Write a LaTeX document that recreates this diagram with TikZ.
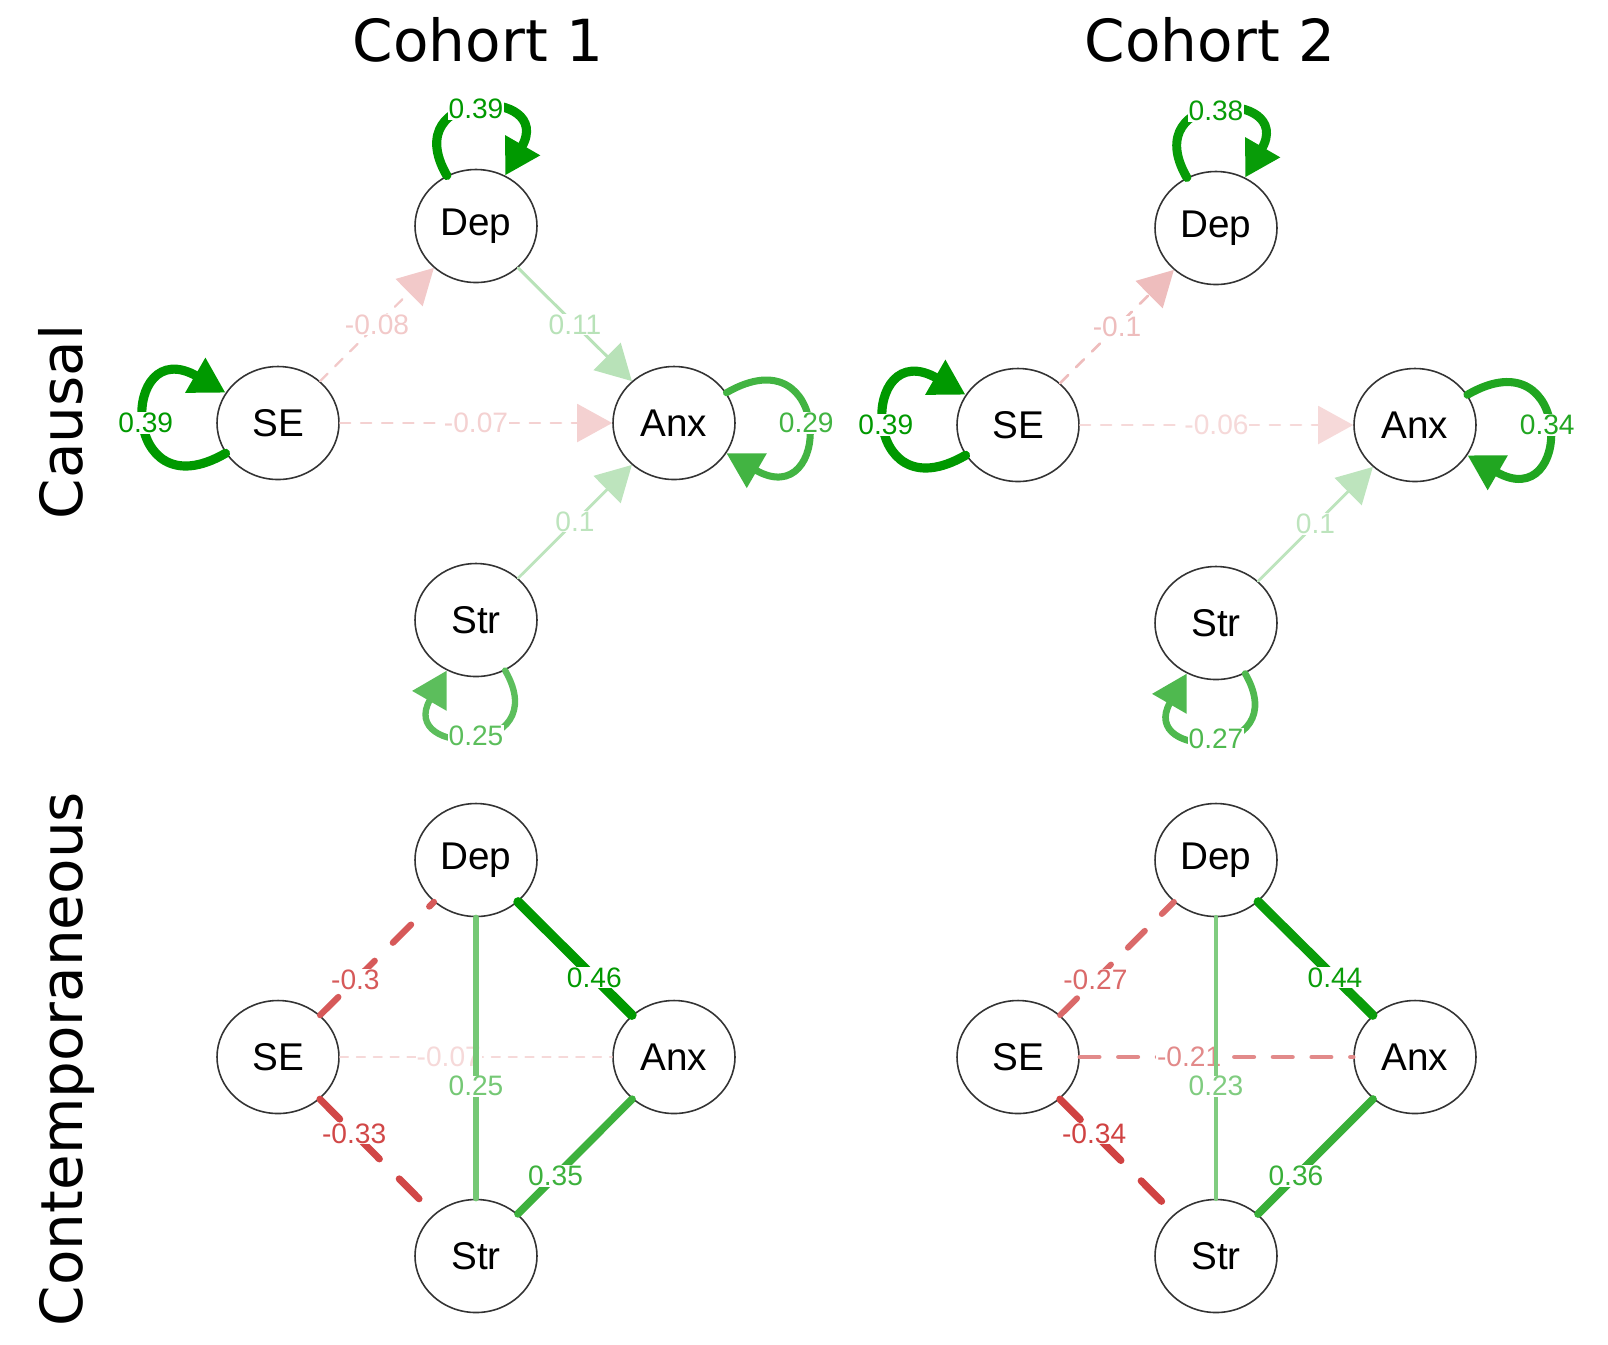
\documentclass[tikz,border=0pt]{standalone}
\usepackage{fontspec}
\setmainfont{Liberation Sans}
\newfontfamily\headfont{DejaVu Sans}
\usepackage{tikz}
\usetikzlibrary{arrows.meta,shapes.geometric}
\definecolor{posgreen}{rgb}{0,0.6,0}
\definecolor{negred}{rgb}{0.75,0,0}
\tikzset{state/.style={ellipse, draw=black!80, line width=0.45pt, fill=white,
            minimum width=1.22cm, minimum height=1.13cm, inner sep=0pt,
            font=\fontsize{11}{13}\selectfont},
         elab/.style={fill=white, inner sep=0.2pt, font=\fontsize{8}{9}\selectfont},
         lagged/.style={-{Triangle[length=3.5mm,width=3.8mm]}},
         negline/.style={dash pattern=on #1 off #1},
         header/.style={font=\headfont\fontsize{16.5}{20}\selectfont, anchor=base}
}
\begin{document}
\begin{tikzpicture}[line cap=round]
\useasboundingbox (0,0) rectangle (16.08,-13.44);
% titles
\node[header] (h1) at (4.78,-0.615) {Cohort 1};
\node[header] (h2) at (12.10,-0.615) {Cohort 2};
\node[header, rotate=90] (r1) at (0.82,-4.22) {Causal};
\node[header, rotate=90] (r2) at (0.82,-10.59) {Contemporaneous};
% causal, cohort 1
\node[state] (dep1) at (4.76,-2.26) {Dep};
\node[state] (se1) at (2.78,-4.23) {SE};
\node[state] (anx1) at (6.74,-4.23) {Anx};
\node[state] (str1) at (4.76,-6.20) {Str};
\draw[negred!18, line width=0.6pt, negline=3pt, lagged] (se1) -- node[elab] {-0.07} (anx1);
\draw[negred!21, line width=0.65pt, negline=3pt, lagged] (se1) -- node[elab] {-0.08} (dep1);
\draw[posgreen!26, line width=0.8pt, lagged] (str1) -- node[elab] {0.1} (anx1);
\draw[posgreen!28, line width=0.85pt, lagged] (dep1) -- node[elab] {0.11} (anx1);
\draw[posgreen!64, line width=1.8pt, lagged] (str1) to[out=-60,in=-120,looseness=4.4] node[elab] {0.25} (str1);
\draw[posgreen!74, line width=2pt, lagged] (anx1) to[out=30,in=-30,looseness=5.2] node[elab] {0.29} (anx1);
\draw[posgreen, line width=2.6pt, lagged] (se1) to[out=210,in=150,looseness=5.2] node[elab] {0.39} (se1);
\draw[posgreen, line width=2.6pt, lagged] (dep1) to[out=120,in=60,looseness=4.5] node[elab] {0.39} (dep1);
% causal, cohort 2
\node[state] (dep2) at (12.16,-2.28) {Dep};
\node[state] (se2) at (10.18,-4.25) {SE};
\node[state] (anx2) at (14.15,-4.25) {Anx};
\node[state] (str2) at (12.16,-6.23) {Str};
\draw[negred!15, line width=0.6pt, negline=3pt, lagged] (se2) -- node[elab] {-0.06} (anx2);
\draw[negred!26, line width=0.75pt, negline=3.2pt, lagged] (se2) -- node[elab] {-0.1} (dep2);
\draw[posgreen!26, line width=0.8pt, lagged] (str2) -- node[elab] {0.1} (anx2);
\draw[posgreen!69, line width=1.9pt, lagged] (str2) to[out=-60,in=-120,looseness=4.4] node[elab] {0.27} (str2);
\draw[posgreen!87, line width=2.3pt, lagged] (anx2) to[out=30,in=-30,looseness=5.2] node[elab] {0.34} (anx2);
\draw[posgreen!97, line width=2.55pt, lagged] (dep2) to[out=120,in=60,looseness=4.5] node[elab] {0.38} (dep2);
\draw[posgreen, line width=2.6pt, lagged] (se2) to[out=210,in=150,looseness=5.2] node[elab] {0.39} (se2);
% contemporaneous, cohort 1
\node[state] (cdep1) at (4.76,-8.60) {Dep};
\node[state] (cse1) at (2.78,-10.57) {SE};
\node[state] (canx1) at (6.74,-10.57) {Anx};
\node[state] (cstr1) at (4.76,-12.56) {Str};
\draw[negred!15, line width=0.5pt, negline=2.4pt] (cse1) -- node[elab, pos=0.4] {-0.07} (canx1);
\draw[posgreen!54, line width=1.5pt] (cdep1) -- node[elab, pos=0.6] {0.25} (cstr1);
\draw[negred!65, line width=1.8pt, negline=7.3pt] (cse1) -- node[elab, pos=0.31] {-0.3} (cdep1);
\draw[negred!72, line width=2pt, negline=8pt] (cse1) -- node[elab, pos=0.3] {-0.33} (cstr1);
\draw[posgreen!76, line width=2.15pt] (cstr1) -- node[elab, pos=0.33] {0.35} (canx1);
\draw[posgreen, line width=2.75pt] (cdep1) -- node[elab, pos=0.67] {0.46} (canx1);
% contemporaneous, cohort 2
\node[state] (cdep2) at (12.16,-8.60) {Dep};
\node[state] (cse2) at (10.18,-10.57) {SE};
\node[state] (canx2) at (14.15,-10.57) {Anx};
\node[state] (cstr2) at (12.16,-12.56) {Str};
\draw[negred!46, line width=1.35pt, negline=5.5pt] (cse2) -- node[elab, pos=0.4] {-0.21} (canx2);
\draw[posgreen!50, line width=1.4pt] (cdep2) -- node[elab, pos=0.6] {0.23} (cstr2);
\draw[negred!59, line width=1.7pt, negline=6.8pt] (cse2) -- node[elab, pos=0.31] {-0.27} (cdep2);
\draw[negred!74, line width=2.05pt, negline=8.2pt] (cse2) -- node[elab, pos=0.3] {-0.34} (cstr2);
\draw[posgreen!78, line width=2.2pt] (cstr2) -- node[elab, pos=0.33] {0.36} (canx2);
\draw[posgreen!96, line width=2.65pt] (cdep2) -- node[elab, pos=0.67] {0.44} (canx2);
\end{tikzpicture}
\end{document}
